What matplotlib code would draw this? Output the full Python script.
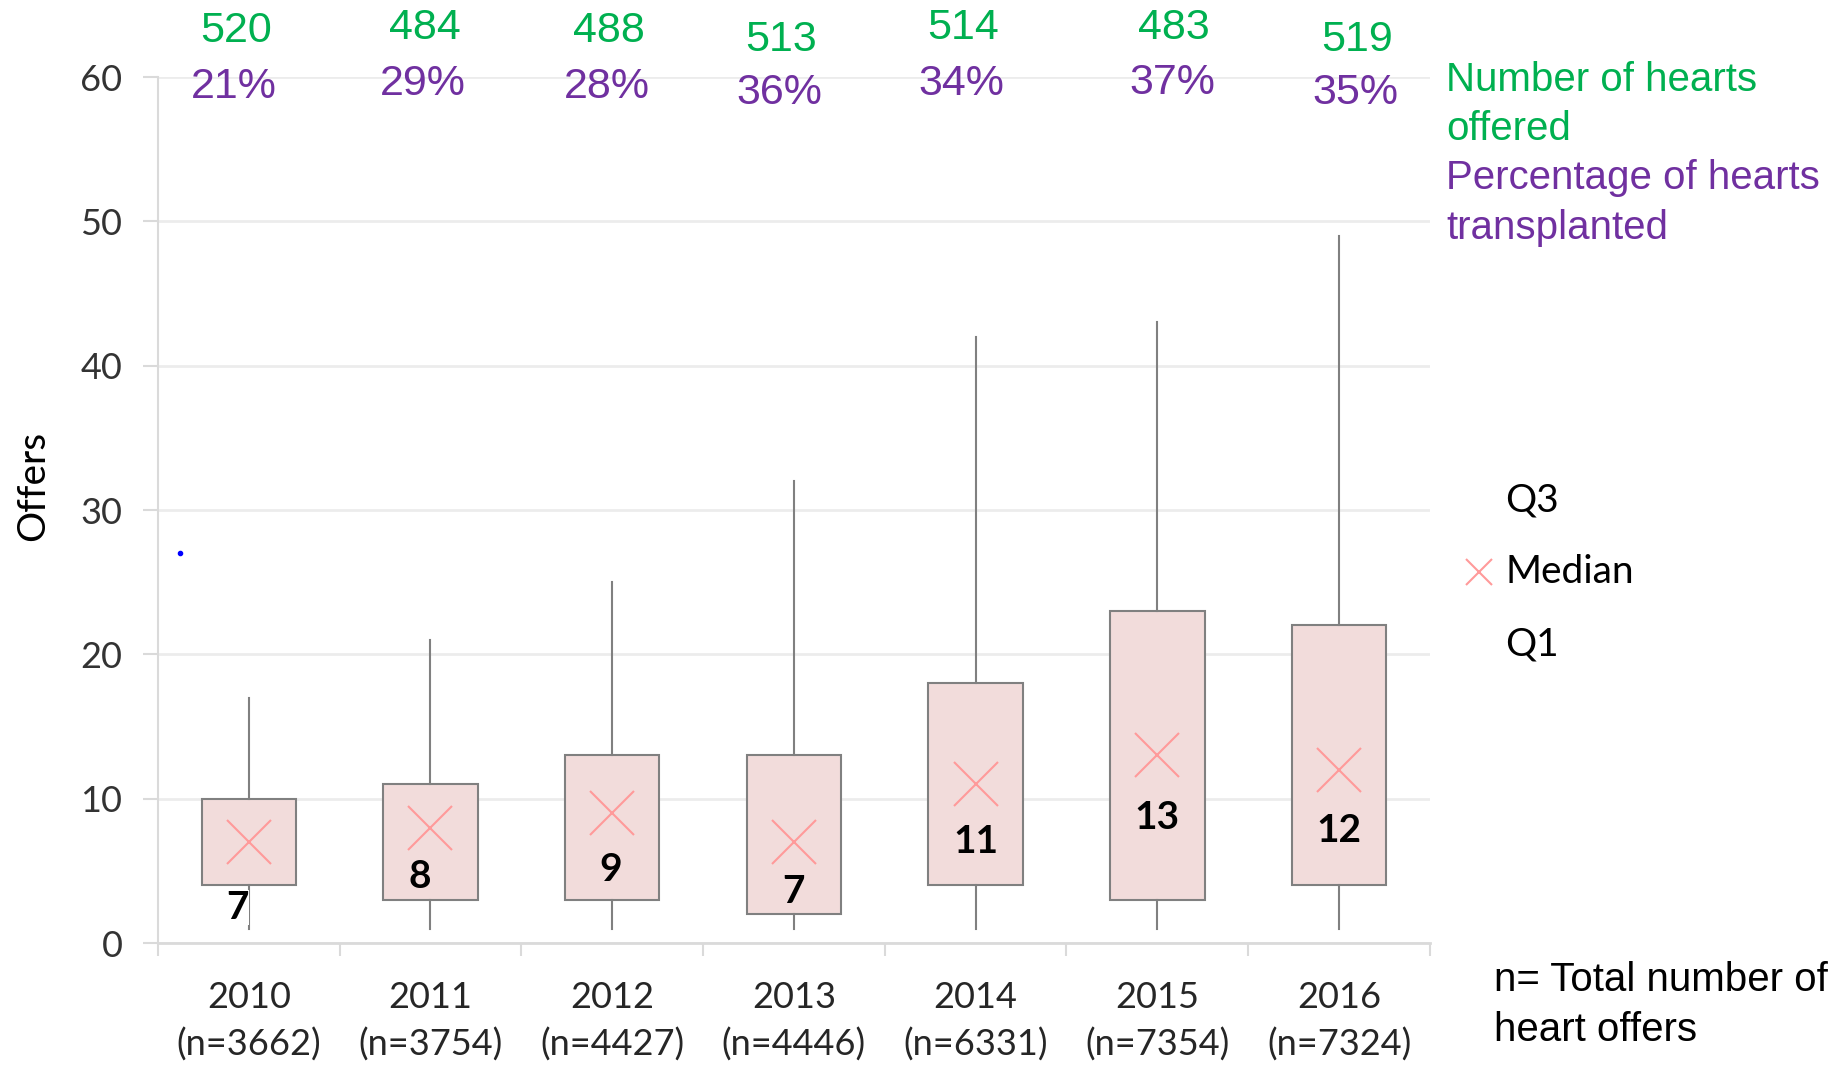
import numpy as np
import matplotlib
matplotlib.use("Agg")
from matplotlib import pyplot as plt

# data
years = ["2010", "2011", "2012", "2013", "2014", "2015", "2016"]
n_offers = [3662, 3754, 4427, 4446, 6331, 7354, 7324]
q1 = [4, 3, 3, 2, 4, 3, 4]
medians = [7, 8, 9, 7, 11, 13, 12]
q3 = [10, 11, 13, 13, 18, 23, 22]
whis_lo = [1, 1, 1, 1, 1, 1, 1]
whis_hi = [17, 21, 25, 32, 42, 43, 49]
hearts_offered = [520, 484, 488, 513, 514, 483, 519]
pct_transplanted = [21, 29, 28, 36, 34, 37, 35]
stray_point = (-0.38, 27)

# layout of the text labels (as placed in the original)
top_dx = [-0.07, -0.03, -0.02, -0.07, -0.07, 0.09, 0.10]
num_y = [63.2, 63.4, 63.2, 62.6, 63.4, 63.4, 62.6]
pct_y = [59.3, 59.5, 59.3, 58.9, 59.5, 59.6, 58.9]
med_dx = [-0.06, -0.06, -0.01, 0.0, 0.0, 0.0, 0.0]
med_y = [2.45, 4.6, 5.1, 3.6, 7.0, 8.7, 7.8]

GREEN = "#00b050"
PURPLE = "#7030a0"
GRAY = "#808080"
LIGHT = "#dadada"

fig = plt.figure(figsize=(18.45, 10.67), dpi=100)
ax = fig.add_axes([0.0856, 0.1162, 0.6894, 0.8116])

pos = np.arange(len(years))
stats = []
for i in range(len(years)):
    stats.append(dict(med=medians[i], q1=q1[i], q3=q3[i],
                      whislo=whis_lo[i], whishi=whis_hi[i], fliers=[]))

ax.bxp(stats, positions=pos, widths=0.52, patch_artist=True, showcaps=False,
       boxprops=dict(facecolor="#f2dcdb", edgecolor=GRAY, linewidth=1.5),
       whiskerprops=dict(color=GRAY, linewidth=1.5),
       medianprops=dict(linewidth=0), zorder=3)
ax.plot(pos, medians, linestyle="none", marker="x", markersize=32,
        markeredgewidth=1.5, color="#ff9a9a", zorder=4)
ax.plot([stray_point[0]], [stray_point[1]], "o", color="blue", markersize=3)

for i in range(len(years)):
    bg = None
    if med_y[i] < q1[i]:
        bg = dict(facecolor="white", edgecolor="none", pad=0)
    ax.text(pos[i] + med_dx[i], med_y[i], str(medians[i]), ha="center", va="center",
            fontsize=28, fontweight="bold", family="Lato", color="black",
            bbox=bg, zorder=5)
    ax.text(pos[i] + top_dx[i], num_y[i], str(hearts_offered[i]), ha="center", va="center",
            fontsize=31, family="Liberation Sans", color=GREEN, clip_on=False)
    ax.text(pos[i] + top_dx[i] - 0.01, pct_y[i], "%d%%" % pct_transplanted[i], ha="center",
            va="center", fontsize=31, family="Liberation Sans", color=PURPLE, clip_on=False)

ax.set_xlim(-0.5, len(years) - 0.5)
ax.set_ylim(0, 60)
ax.set_yticks(range(0, 61, 10))
ax.set_xticks(pos)
ax.set_xticklabels(["%s\n(n=%d)" % (y, n) for y, n in zip(years, n_offers)],
                   family="Lato", fontsize=26, color="#262626", linespacing=1.5)
ax.set_xticks(np.arange(-0.5, len(years), 1), minor=True)
ax.tick_params(axis="x", which="major", length=0, pad=27)
ax.tick_params(axis="x", which="minor", length=9, color=LIGHT, width=1.5)
ax.tick_params(axis="y", length=10.5, color=LIGHT, width=1.5, pad=15,
               labelsize=26, labelcolor="#333333")
for lab in ax.get_yticklabels():
    lab.set_family("Lato")

ax.grid(axis="y", color="#ececec", linewidth=2)
ax.set_axisbelow(True)
for s in ["top", "right"]:
    ax.spines[s].set_visible(False)
ax.spines["left"].set_color(LIGHT)
ax.spines["left"].set_linewidth(1.5)
ax.spines["bottom"].set_color(LIGHT)
ax.spines["bottom"].set_linewidth(2)

fig.text(0.018, 0.545, "Offers", rotation=90, ha="center", va="center",
         fontsize=28, family="Lato", color="black")

# right hand notes
fig.text(0.784, 0.925, "Number of hearts", color=GREEN, fontsize=29,
         family="Liberation Sans", va="center")
fig.text(0.784, 0.879, "offered", color=GREEN, fontsize=29,
         family="Liberation Sans", va="center")
fig.text(0.784, 0.833, "Percentage of hearts", color=PURPLE, fontsize=29,
         family="Liberation Sans", va="center")
fig.text(0.784, 0.786, "transplanted", color=PURPLE, fontsize=29,
         family="Liberation Sans", va="center")

fig.text(0.816, 0.531, "Q3", fontsize=28, family="Lato", va="center")
fig.text(0.816, 0.464, "Median", fontsize=28, family="Lato", va="center")
fig.text(0.816, 0.396, "Q1", fontsize=28, family="Lato", va="center")
fig.lines.append(plt.Line2D([0.8016], [0.464], transform=fig.transFigure,
                            marker="x", markersize=19, markeredgewidth=1.5,
                            color="#ff9a9a", linestyle="none"))

fig.text(0.810, 0.0815, "n= Total number of", fontsize=29,
         family="Liberation Sans", va="center")
fig.text(0.810, 0.035, "heart offers", fontsize=29,
         family="Liberation Sans", va="center")

fig.savefig("out.png", dpi=100)
